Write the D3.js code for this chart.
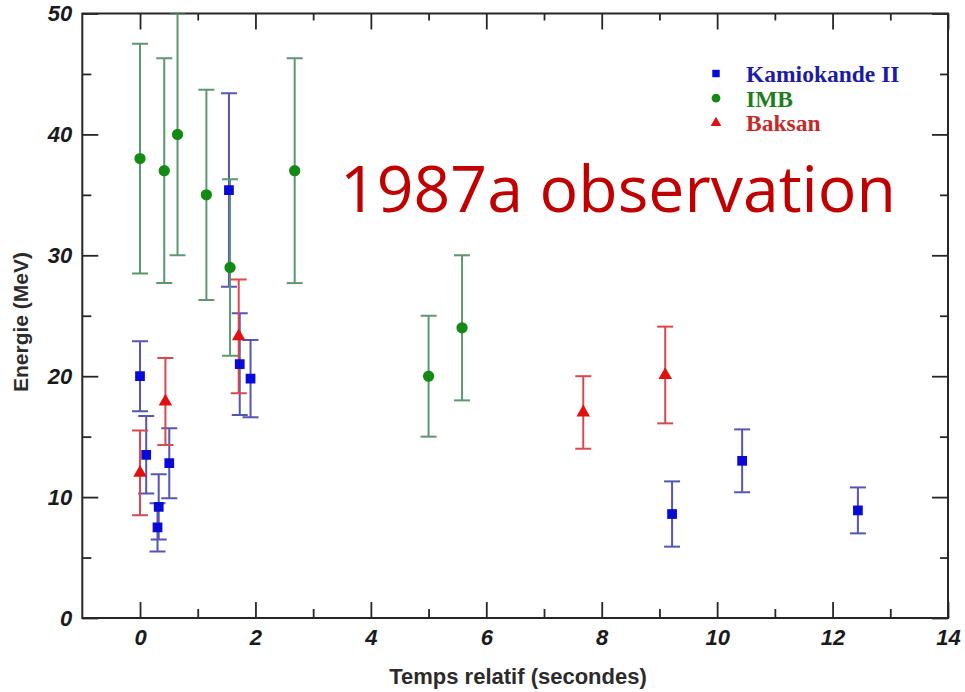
<!DOCTYPE html>
<html>
<head>
<meta charset="utf-8">
<script src="https://cdn.jsdelivr.net/npm/d3@7"></script>
<style>
  html, body { margin: 0; padding: 0; background: #fff; }
  svg { display: block; }
</style>
</head>
<body>
<svg id="chart" width="965" height="692"></svg>
<script>
// SN 1987A neutrino events: arrival time (s) and energy (MeV) with errors
const kamiokandeTime   = [0, 0.107, 0.303, 0.324, 0.507, 1.541, 1.728, 1.915, 9.219, 10.433, 12.439];
const kamiokandeEnergy = [20.0, 13.5, 7.5, 9.2, 12.8, 35.4, 21.0, 19.8, 8.6, 13.0, 8.9];
const kamiokandeError  = [2.9, 3.2, 2.0, 2.7, 2.9, 8.0, 4.2, 3.2, 2.7, 2.6, 1.9];

const imbTime   = [0, 0.42, 0.65, 1.15, 1.56, 2.68, 5.0, 5.58];
const imbEnergy = [38, 37, 40, 35, 29, 37, 20, 24];
const imbError  = [9.5, 9.3, 10, 8.7, 7.3, 9.3, 5, 6];

const baksanTime   = [0, 0.44, 1.71, 7.68, 9.1];
const baksanEnergy = [12, 17.9, 23.3, 17.0, 20.1];
const baksanError  = [3.5, 3.6, 4.7, 3.0, 4.0];

const xMajorTicks = [0, 2, 4, 6, 8, 10, 12, 14];
const xMinorTicks = [1, 3, 5, 7, 9, 11, 13];
const yMajorTicks = [0, 10, 20, 30, 40, 50];
const yMinorTicks = [5, 15, 25, 35, 45];

const legendLabels = ["Kamiokande II", "IMB", "Baksan"];
const xTitle = "Temps relatif (secondes)";
const yTitle = "Energie (MeV)";
const overlayTitle = "1987a observation";

const svg = d3.select("#chart");
const plotLeft = 82.3, plotRight = 948, plotTop = 13.5, plotBottom = 618;

const x = d3.scaleLinear().domain([-1, 14]).range([plotLeft, plotRight]);
const y = d3.scaleLinear().domain([0, 50]).range([plotBottom, plotTop]);

const axisColor = "#262626";
const tickFont = "'Liberation Sans', Arial, sans-serif";

// Inward ticks on all four sides
function drawAxis(axis, tf) {
  const g = svg.append("g").attr("transform", tf).call(axis);
  g.select(".domain").remove();
  g.selectAll(".tick line").attr("stroke", axisColor).attr("stroke-width", 1.8);
  g.selectAll("text")
    .attr("font-family", tickFont)
    .attr("font-weight", "bold")
    .attr("font-style", "italic")
    .attr("font-size", 22)
    .attr("fill", "#1a1a1a");
  return g;
}

// bottom
drawAxis(d3.axisBottom(x).tickValues(xMajorTicks).tickSize(-16).tickPadding(11).tickFormat(d3.format("d")),
  `translate(0,${plotBottom})`);
drawAxis(d3.axisBottom(x).tickValues(xMinorTicks).tickSize(-9).tickFormat(""), `translate(0,${plotBottom})`);
// top
drawAxis(d3.axisTop(x).tickValues(xMajorTicks).tickSize(-16).tickFormat(""), `translate(0,${plotTop})`);
drawAxis(d3.axisTop(x).tickValues(xMinorTicks).tickSize(-7).tickFormat(""), `translate(0,${plotTop})`);
// left
drawAxis(d3.axisLeft(y).tickValues(yMajorTicks).tickSize(-16).tickPadding(10).tickFormat(d3.format("d")),
  `translate(${plotLeft},0)`);
drawAxis(d3.axisLeft(y).tickValues(yMinorTicks).tickSize(-9).tickFormat(""), `translate(${plotLeft},0)`);
// right
drawAxis(d3.axisRight(y).tickValues(yMajorTicks).tickSize(-16).tickFormat(""), `translate(${plotRight},0)`);
drawAxis(d3.axisRight(y).tickValues(yMinorTicks).tickSize(-8).tickFormat(""), `translate(${plotRight},0)`);

// plot frame
svg.append("rect")
  .attr("x", plotLeft).attr("y", plotTop)
  .attr("width", plotRight - plotLeft).attr("height", plotBottom - plotTop)
  .attr("fill", "none").attr("stroke", axisColor).attr("stroke-width", 2);

// axis titles
svg.append("text")
  .attr("x", 518).attr("y", 684)
  .attr("text-anchor", "middle")
  .attr("font-family", tickFont).attr("font-weight", "bold").attr("font-size", 22)
  .attr("fill", "#2b2b2b")
  .text(xTitle);
svg.append("text")
  .attr("transform", `translate(28,${322}) rotate(-90)`)
  .attr("text-anchor", "middle")
  .attr("font-family", tickFont).attr("font-weight", "bold").attr("font-size", 21)
  .attr("fill", "#2b2b2b")
  .text(yTitle);

const series = [
  { t: kamiokandeTime, e: kamiokandeEnergy, err: kamiokandeError,
    bar: "#5555b8", mark: "#0a0ad8", shape: d3.symbolSquare, size: 95, legendSize: 55 },
  { t: imbTime, e: imbEnergy, err: imbError,
    bar: "#5d9670", mark: "#138a13", shape: d3.symbolCircle, size: 100, legendSize: 60 },
  { t: baksanTime, e: baksanEnergy, err: baksanError,
    bar: "#d9484c", mark: "#e01010", shape: d3.symbolTriangle, size: 80, legendSize: 50 }
];

svg.append("clipPath").attr("id", "plotClip")
  .append("rect").attr("x", plotLeft).attr("y", plotTop)
  .attr("width", plotRight - plotLeft).attr("height", plotBottom - plotTop);

const plot = svg.append("g").attr("clip-path", "url(#plotClip)");
const capHalf = 8;

series.forEach(s => {
  const pts = s.t.map((t, i) => ({ t, e: s.e[i], err: s.err[i] }));
  const g = plot.append("g");
  const bars = g.selectAll("g.err").data(pts).join("g").attr("class", "err")
    .attr("stroke", s.bar).attr("stroke-width", 2).attr("fill", "none");
  bars.append("line")
    .attr("x1", d => x(d.t)).attr("x2", d => x(d.t))
    .attr("y1", d => y(d.e + d.err)).attr("y2", d => y(d.e - d.err));
  bars.append("line")
    .attr("x1", d => x(d.t) - capHalf).attr("x2", d => x(d.t) + capHalf)
    .attr("y1", d => y(d.e + d.err)).attr("y2", d => y(d.e + d.err));
  bars.append("line")
    .attr("x1", d => x(d.t) - capHalf).attr("x2", d => x(d.t) + capHalf)
    .attr("y1", d => y(d.e - d.err)).attr("y2", d => y(d.e - d.err));
});

series.forEach(s => {
  const pts = s.t.map((t, i) => ({ t, e: s.e[i] }));
  plot.append("g").selectAll("path").data(pts).join("path")
    .attr("transform", d => `translate(${x(d.t)},${y(d.e)})`)
    .attr("d", d3.symbol().type(s.shape).size(s.size))
    .attr("fill", s.mark);
});

// legend
const legendText = ["#1b1ba6", "#1f7d1f", "#c42a2a"];
const legend = svg.append("g");
series.forEach((s, i) => {
  const ly = 73.5 + i * 24.7;
  legend.append("path")
    .attr("transform", `translate(716,${ly})`)
    .attr("d", d3.symbol().type(s.shape).size(s.legendSize))
    .attr("fill", s.mark);
  legend.append("text")
    .attr("x", 746).attr("y", ly + 8.3)
    .attr("font-family", "'Liberation Serif', 'Times New Roman', serif")
    .attr("font-weight", "bold").attr("font-size", 23.5)
    .attr("fill", legendText[i])
    .text(legendLabels[i]);
});

// overlay caption
svg.append("text")
  .attr("x", 340).attr("y", 212)
  .attr("font-family", "'Open Sans', 'Noto Sans', sans-serif")
  .attr("font-size", 64)
  .attr("fill", "#c00000")
  .attr("textLength", 556).attr("lengthAdjust", "spacingAndGlyphs")
  .text(overlayTitle);
</script>
</body>
</html>
